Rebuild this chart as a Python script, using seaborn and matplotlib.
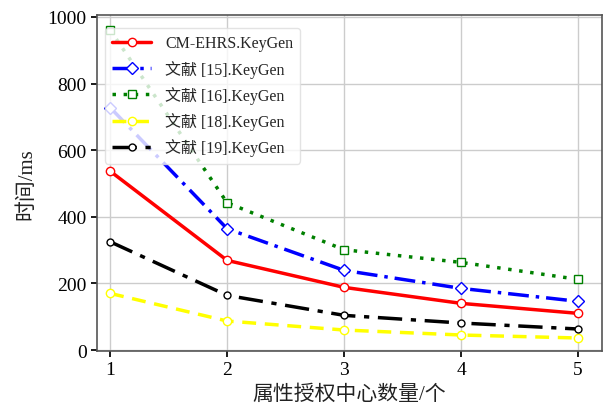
import matplotlib
matplotlib.use("Agg")
import matplotlib.pyplot as plt
import seaborn as sns
import pandas as pd

x = [1, 2, 3, 4, 5]
series_names = ["CM-EHRS.KeyGen", "文献 [15].KeyGen", "文献 [16].KeyGen", "文献 [18].KeyGen", "文献 [19].KeyGen"]
cm_ehrs = [537, 269, 188, 140, 110]
ref15 = [728, 364, 239, 185, 146]
ref16 = [961, 442, 301, 263, 212]
ref18 = [170, 87, 60, 45, 36]
ref19 = [325, 164, 104, 81, 63]
x_label = "属性授权中心数量/个"
y_label = "时间/ms"

sns.set_theme(style="whitegrid")
plt.rcParams['font.family'] = ['Liberation Serif', 'Noto Sans CJK SC']
plt.rcParams['axes.unicode_minus'] = False

fig = plt.figure(figsize=(6.04, 4.06), dpi=100)
ax = fig.add_axes([0.161, 0.133, 0.835, 0.827])

styles = [
    dict(color="red", ls="-", marker="o"),
    dict(color="blue", ls=(0, (6, 2, 1, 2)), marker="D"),
    dict(color="green", ls=(0, (1, 2.2)), marker="s"),
    dict(color="yellow", ls=(0, (4, 2.5)), marker="o"),
    dict(color="black", ls=(0, (7, 2.5, 1.5, 2.5)), marker="o"),
]
data = [cm_ehrs, ref15, ref16, ref18, ref19]
msizes = [6, 6, 6, 6, 5]
for name, vals, st, ms in zip(series_names, data, styles, msizes):
    df = pd.DataFrame({"x": x, "y": vals})
    sns.lineplot(data=df, x="x", y="y", ax=ax, color=st["color"], linestyle=st["ls"],
                 linewidth=2.5, marker=st["marker"], markersize=ms,
                 markerfacecolor="white", markeredgecolor=st["color"], markeredgewidth=1.0,
                 label=name)

ax.set_xlim(0.89, 5.2)
ax.set_ylim(-3, 1005)
ax.set_xticks([1, 2, 3, 4, 5])
ax.set_yticks([0, 200, 400, 600, 800, 1000])
ax.tick_params(axis='both', labelsize=14, colors="black", length=4, direction="out", left=True, bottom=True)
ax.set_xlabel(x_label, fontsize=15, color="#222222", labelpad=4)
ax.set_ylabel(y_label, fontsize=15, color="#222222", labelpad=8)
ax.grid(True, color="#cccccc", linewidth=1)
for sp in ax.spines.values():
    sp.set_color("#555555")
    sp.set_linewidth(1.2)
ax.set_facecolor("white")

leg = ax.legend(loc="upper left", fontsize=11.5, frameon=True, handlelength=2.4,
                borderpad=0.45, labelspacing=0.52, handletextpad=0.9,
                bbox_to_anchor=(0.0, 0.985))
leg.get_frame().set_edgecolor("#dddddd")
leg.get_frame().set_alpha(0.8)

fig.savefig("out.png", dpi=100)
